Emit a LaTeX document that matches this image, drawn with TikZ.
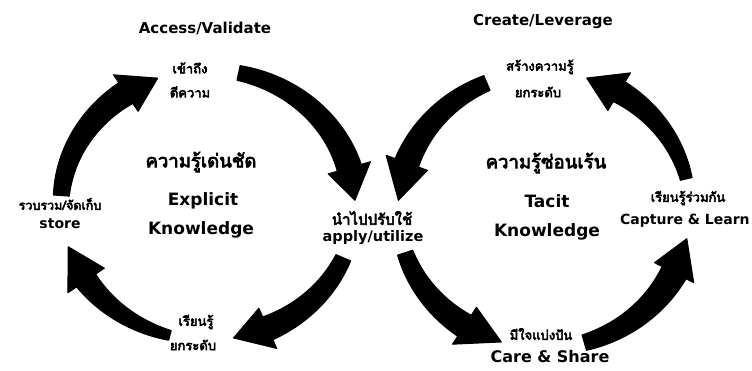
\documentclass[tikz,border=0pt]{standalone}
\usepackage{fontspec}
\setmainfont{DejaVu Sans}
\newfontfamily\thaifont[Script=Thai, FakeBold=4]{Loma}

% Ellipse that the current set of ring arrows follows
\def\Ecx{0}\def\Ecy{0}\def\Erx{100}\def\Ery{100}
\def\Hw{22}
% \ringarrow{tail angle}{head base angle}{tip angle}{tail width}{neck width}
\newcommand\ringarrow[5]{%
  \fill[ringfill]
    plot[domain=#1:#2, samples=40, variable=\t]
      ({\Ecx+(\Erx+(#4+(#5-#4)*(\t-(#1))/((#2)-(#1)))/2)*cos(\t)},
       {\Ecy-(\Ery+(#4+(#5-#4)*(\t-(#1))/((#2)-(#1)))/2)*sin(\t)})
    -- ({\Ecx+(\Erx+\Hw)*cos(#2)}, {\Ecy-(\Ery+\Hw)*sin(#2)})
    -- ({\Ecx+\Erx*cos(#3)}, {\Ecy-\Ery*sin(#3)})
    -- ({\Ecx+(\Erx-\Hw)*cos(#2)}, {\Ecy-(\Ery-\Hw)*sin(#2)})
    -- plot[domain=#2:#1, samples=40, variable=\t]
      ({\Ecx+(\Erx-(#4+(#5-#4)*(\t-(#1))/((#2)-(#1)))/2)*cos(\t)},
       {\Ecy-(\Ery-(#4+(#5-#4)*(\t-(#1))/((#2)-(#1)))/2)*sin(\t)})
    -- cycle;}

\begin{document}
\begin{tikzpicture}[x=1pt, y=-1pt,
  ringfill/.style={fill=black, draw=black, line width=1pt, line join=round},
  lat/.style={font=\bfseries\fontsize{#1}{#1}\selectfont, inner sep=0pt, text=black},
  thai/.style={font=\thaifont\fontsize{#1}{#1}\selectfont, inner sep=0pt, text=black}]
\useasboundingbox (0,0) rectangle (752,370);
\fill[white] (0,0) rectangle (752,370);

% ---- explicit knowledge cycle ----
\node[lat=15]   (access)    at (205,28)  {Access/Validate};
\node[thai=13]  (accessA)   at (190,68)  {เข้าถึง};
\node[thai=13]  (accessB)   at (190,92)  {ตีความ};
\node[thai=18.5](explTh)    at (201,162) {ความรู้เด่นชัด};
\node[lat=17]   (explA)     at (203,201) {Explicit};
\node[lat=17]   (explB)     at (201,230) {Knowledge};
\node[thai=12.5](storeTh)   at (60,204)  {รวบรวม/จัดเก็บ};
\node[lat=14]   (store)     at (60,224)  {store};
\node[thai=13]  (learnA)    at (196,322) {เรียนรู้};
\node[thai=13]  (learnB)    at (193,345) {ยกระดับ};
\node[thai=15]  (applyTh)   at (372,218) {นำไปปรับใช้};
\node[lat=14.5] (apply)     at (373,238) {apply/utilize};

% ---- tacit knowledge cycle ----
\node[lat=15]   (create)    at (543,22)  {Create/Leverage};
\node[thai=13]  (createA)   at (540,67)  {สร้างความรู้};
\node[thai=13]  (createB)   at (538,92)  {ยกระดับ};
\node[thai=18.5](tacitTh)   at (546,163) {ความรู้ซ่อนเร้น};
\node[lat=17]   (tacitA)    at (547,201) {Tacit};
\node[lat=17]   (tacitB)    at (547,232) {Knowledge};
\node[thai=13]  (captureTh) at (688,198) {เรียนรู้ร่วมกัน};
\node[lat=14, anchor=west] (capture) at (620,221) {Capture \& Learn};
\node[thai=13]  (careTh)    at (541,334) {มีใจแบ่งปัน};
\node[lat=16]   (care)      at (550,357) {Care \& Share};

% ---- arrows of the explicit cycle (clockwise) ----
\def\Ecx{208}\def\Ecy{205}\def\Erx{147}\def\Ery{135}
\ringarrow{176}{124}{110}{16}{25}
\ringarrow{78}{16}{2}{15}{25}
\ringarrow{-23}{-66}{-80}{16}{25}
\ringarrow{-105}{-146}{-162}{10}{23}

% ---- arrows of the tacit cycle (counter-clockwise) ----
\def\Ecx{544}\def\Ecy{210}\def\Erx{146}\def\Ery{138}
\ringarrow{113}{160}{176}{16}{25}
\ringarrow{198}{237}{253}{16}{25}
\ringarrow{286}{333}{348}{16}{27}
\ringarrow{13}{59}{73}{12}{23}
\end{tikzpicture}
\end{document}
